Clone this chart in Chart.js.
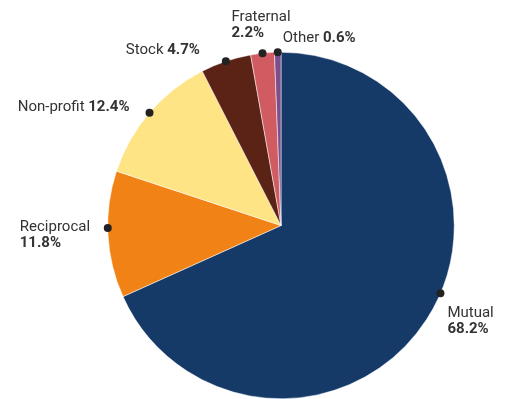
<!DOCTYPE html>
<html lang="en">
  <head>
    <meta charset="utf-8">
    <script src="https://cdn.jsdelivr.net/npm/chart.js@4.4.0/dist/chart.umd.min.js"></script>
    <title>Market share by company type</title>
    <style>
      html, body { margin: 0; padding: 0; background: #fff; }
      .chartContainer { position: relative; width: 509px; height: 399px; }
    </style>
  </head>
  <body>
    <div class="chartContainer">
      <canvas id="myChart"></canvas>
    </div>
    <script type="text/javascript">
      // data
      const categories = ['Mutual', 'Reciprocal', 'Non-profit', 'Stock', 'Fraternal', 'Other'];
      const shares = [68.2, 11.8, 12.4, 4.7, 2.2, 0.6];
      const shareLabels = ['68.2%', '11.8%', '12.4%', '4.7%', '2.2%', '0.6%'];

      const colours = ['#163a68', '#f08216', '#fee485', '#5a2315', '#d05c62', '#7d4e8b'];

      // where each label sits relative to its dot
      // frac = position of the dot along the slice, dx/dy = text offset from dot
      const labelLayout = [
        { frac: 0.46, lines: 2, align: 'left', dx: 7, dy: 20 },
        { frac: 0.55, lines: 2, align: 'left', dx: -88, dy: -1 },
        { frac: 0.5, lines: 1, align: 'right', dx: -20, dy: -5 },
        { frac: 0.5, lines: 1, align: 'right', dx: -26, dy: -11 },
        { frac: 0.5, lines: 2, align: 'left', dx: -31, dy: -36 },
        { frac: 0.5, lines: 1, align: 'left', dx: 5, dy: -14 }
      ];

      const FONT = 'Roboto, "Liberation Sans", sans-serif';
      const TEXT = '#333333';

      const calloutPlugin = {
        id: 'callouts',
        afterDatasetsDraw(chart) {
          const ctx = chart.ctx;
          const meta = chart.getDatasetMeta(0);
          meta.data.forEach((arc, i) => {
            const p = arc.getProps(['x', 'y', 'startAngle', 'endAngle', 'outerRadius'], true);
            const lay = labelLayout[i];
            const ang = p.startAngle + (p.endAngle - p.startAngle) * lay.frac;
            const px = p.x + Math.cos(ang) * p.outerRadius;
            const py = p.y + Math.sin(ang) * p.outerRadius;

            ctx.save();
            ctx.fillStyle = '#222';
            ctx.beginPath();
            ctx.arc(px, py, 4, 0, Math.PI * 2);
            ctx.fill();

            ctx.fillStyle = TEXT;
            ctx.textBaseline = 'middle';
            const reg = '15px ' + FONT;
            const bold = 'bold 15px ' + FONT;
            const tx = px + lay.dx;
            const ty = py + lay.dy;
            if (lay.lines === 2) {
              ctx.textAlign = 'left';
              ctx.font = reg;
              ctx.fillText(categories[i], tx, ty);
              ctx.font = bold;
              ctx.fillText(shareLabels[i], tx, ty + 16);
            } else {
              ctx.font = reg;
              const a = categories[i] + ' ';
              const wa = ctx.measureText(a).width;
              ctx.font = bold;
              const wb = ctx.measureText(shareLabels[i]).width;
              const left = lay.align === 'right' ? tx - wa - wb : tx;
              ctx.textAlign = 'left';
              ctx.font = reg;
              ctx.fillText(a, left, ty);
              ctx.font = bold;
              ctx.fillText(shareLabels[i], left + wa, ty);
            }
            ctx.restore();
          });
        }
      };

      const ctx = document.getElementById('myChart').getContext('2d');
      const myChart = new Chart(ctx, {
        type: 'pie',
        data: {
          labels: categories,
          datasets: [{
            data: shares,
            backgroundColor: colours,
            borderColor: '#ffffff',
            borderWidth: 0.5
          }]
        },
        options: {
          responsive: true,
          maintainAspectRatio: false,
          animation: false,
          layout: {
            padding: { top: 52, bottom: 0, left: 106, right: 53 }
          },
          plugins: {
            legend: { display: false },
            tooltip: { enabled: false }
          }
        },
        plugins: [calloutPlugin]
      });
    </script>
  </body>
</html>
